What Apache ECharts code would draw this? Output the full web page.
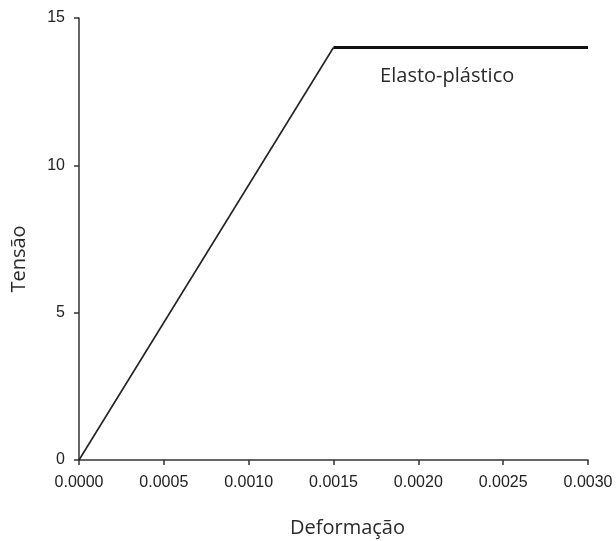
<!DOCTYPE html>
<html>
<head>
<meta charset="utf-8">
<script src="https://cdn.jsdelivr.net/npm/echarts@6/dist/echarts.min.js"></script>
<style>
  html, body { margin: 0; padding: 0; background: #fff; }
  #chart { width: 616px; height: 541px; }
</style>
</head>
<body>
<div id="chart"></div>
<script>
// Stress-strain curve of an elasto-plastic material
const strainTicks = [0, 0.0005, 0.001, 0.0015, 0.002, 0.0025, 0.003];
const stressTicks = [0, 5, 10, 15];
const elasticStrain = [0, 0.0015];
const elasticStress = [0, 14];
const plasticStrain = [0.0015, 0.003];
const plasticStress = [14, 14];
const curveLabel = 'Elasto-plástico';
const labelAt = [0.00217, 13.03];

const zip = (xs, ys) => xs.map((x, i) => [x, ys[i]]);

const axisColor = '#333';
const titleFont = { fontFamily: 'Open Sans', fontSize: 20, color: '#2a2a2a' };
const tickFont = { fontFamily: 'Liberation Sans', fontSize: 16, color: '#222' };

const chart = echarts.init(document.getElementById('chart'));
chart.setOption({
  animation: false,
  backgroundColor: '#fff',
  grid: { left: 79, right: 28, top: 18, bottom: 81, containLabel: false, outerBoundsMode: 'none' },
  xAxis: {
    type: 'value',
    min: strainTicks[0],
    max: strainTicks[strainTicks.length - 1],
    interval: 0.0005,
    name: 'Deformação',
    nameLocation: 'middle',
    nameGap: 58,
    nameTextStyle: Object.assign({ padding: [0, 0, 0, 28] }, titleFont),
    axisLine: { lineStyle: { color: axisColor, width: 1.5 } },
    axisTick: { show: true, length: 5, lineStyle: { color: axisColor, width: 1.5 } },
    splitLine: { show: false },
    axisLabel: Object.assign({ margin: 15, formatter: v => v.toFixed(4) }, tickFont)
  },
  yAxis: {
    type: 'value',
    min: stressTicks[0],
    max: stressTicks[stressTicks.length - 1],
    interval: 5,
    name: 'Tensão',
    nameLocation: 'middle',
    nameGap: 50,
    nameTextStyle: Object.assign({ padding: [0, 0, 0, -40] }, titleFont),
    axisLine: { show: true, lineStyle: { color: axisColor, width: 1.5 } },
    axisTick: { show: true, length: 5, lineStyle: { color: axisColor, width: 1.5 } },
    splitLine: { show: false },
    axisLabel: Object.assign({ margin: 14 }, tickFont)
  },
  series: [
    {
      type: 'line',
      data: zip(elasticStrain, elasticStress),
      symbol: 'none',
      lineStyle: { color: '#222', width: 1.6 }
    },
    {
      type: 'line',
      data: zip(plasticStrain, plasticStress),
      symbol: 'none',
      lineStyle: { color: '#111', width: 3 }
    },
    {
      // text annotation for the plastic branch
      type: 'scatter',
      data: [labelAt],
      symbolSize: 1,
      itemStyle: { color: 'rgba(0,0,0,0)', opacity: 1 },
      silent: true,
      label: Object.assign({
        show: true,
        position: 'inside',
        formatter: curveLabel
      }, titleFont)
    }
  ]
});
</script>
</body>
</html>
